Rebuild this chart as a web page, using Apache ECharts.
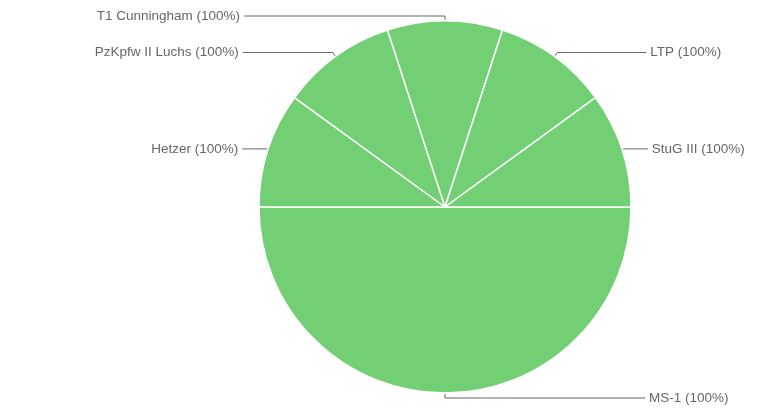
<!DOCTYPE html>
<html>
<head>
<meta charset="utf-8">
<script src="https://cdn.jsdelivr.net/npm/echarts@6/dist/echarts.min.js"></script>
<style>
  html, body { margin: 0; padding: 0; background: #fff; }
  #pie { width: 776px; height: 420px; }
</style>
</head>
<body>
<div id="pie"></div>
<script>
  // data, drawn clockwise from 3 o'clock
  const tanks = ['MS-1', 'Hetzer', 'PzKpfw II Luchs', 'T1 Cunningham', 'LTP', 'StuG III'];
  const shares = [50, 10, 10, 10, 10, 10];
  const pctLabels = ['100%', '100%', '100%', '100%', '100%', '100%'];

  // label line lengths per slice so the texts line up like the original
  const lineLen = [5, 2, 5, 5, 5, 2];
  const lineLen2 = [200, 24, 90, 201, 89, 24];

  const myChart = echarts.init(document.getElementById('pie'));

  const data = tanks.map((name, i) => ({
    name: name,
    value: shares[i],
    pct: pctLabels[i],
    labelLine: { length: lineLen[i], length2: lineLen2[i] }
  }));

  myChart.setOption({
    animation: false,
    series: [{
      type: 'pie',
      center: [445, 207],
      radius: 186,
      startAngle: 0,
      clockwise: true,
      avoidLabelOverlap: false,
      data: data,
      itemStyle: {
        color: '#72cf74',
        borderColor: '#ffffff',
        borderWidth: 1.5
      },
      label: {
        show: true,
        color: '#666666',
        fontFamily: 'Liberation Sans, Arial, sans-serif',
        fontSize: 13.5,
        distanceToLabelLine: 4,
        formatter: function (p) {
          return p.name + ' (' + p.data.pct + ')';
        }
      },
      labelLine: {
        show: true,
        lineStyle: { color: '#666666', width: 1 }
      },
      // the bottom slice sits dead centre, push its label to the right side
      labelLayout: function (params) {
        if (params.dataIndex !== 0) return {};
        const pts = params.labelLinePoints;
        if (!pts) return {};
        const x2 = pts[1][0];
        const x3 = pts[2][0];
        const nx3 = x3 < x2 ? 2 * x2 - x3 : x3;
        return {
          x: nx3 + 4,
          y: pts[2][1],
          align: 'left',
          verticalAlign: 'middle',
          labelLinePoints: [pts[0], pts[1], [nx3, pts[2][1]]]
        };
      },
      emphasis: { disabled: true }
    }]
  });
</script>
</body>
</html>
